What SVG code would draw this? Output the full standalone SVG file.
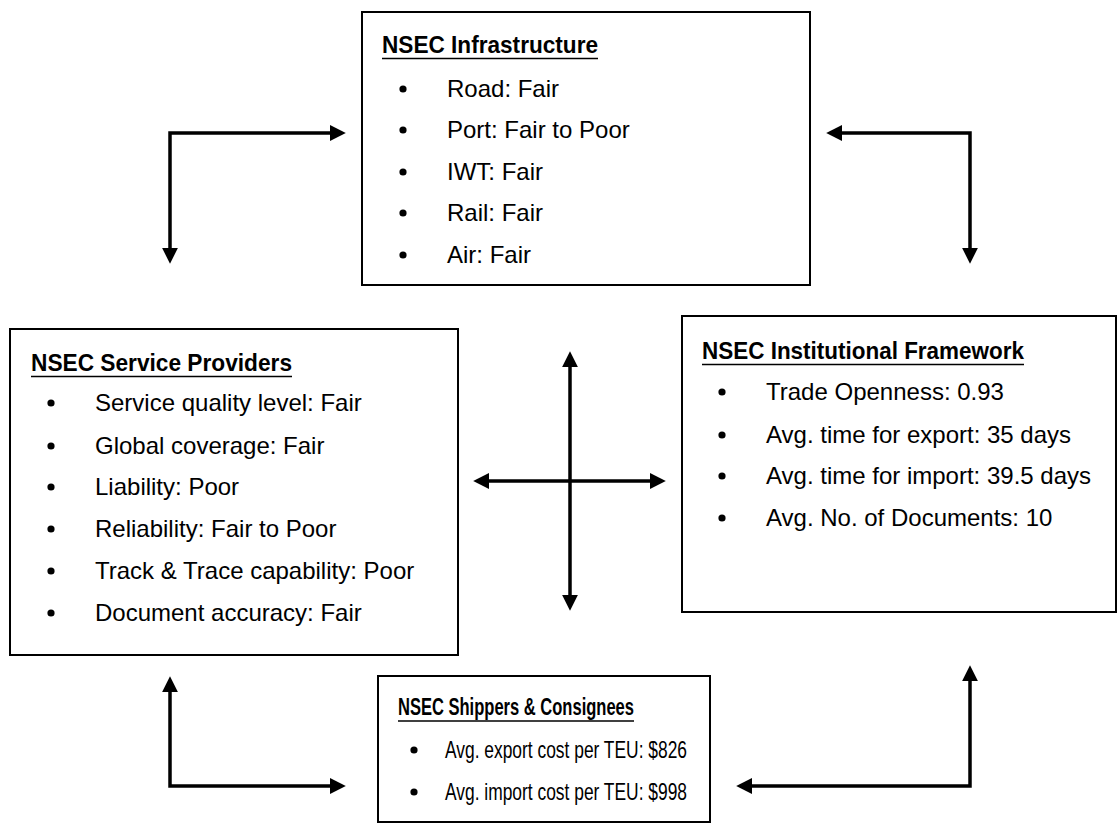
<svg xmlns="http://www.w3.org/2000/svg" width="1117" height="824" viewBox="0 0 1117 824">
<style>
.box{fill:#fff;stroke:#000;stroke-width:2}
.title{font-family:"Liberation Sans",Arial,sans-serif;font-weight:bold;font-size:24px;fill:#000}
.item{font-family:"Liberation Sans",Arial,sans-serif;font-size:24px;fill:#000}
.ul{stroke:#000;stroke-width:1.6}
.dot{fill:#000}
.conn{fill:none;stroke:#000;stroke-width:3.5;stroke-linejoin:miter}
</style>
<defs>
<marker id="ah" markerUnits="userSpaceOnUse" markerWidth="16" markerHeight="16" viewBox="0 0 15 15" refX="3" refY="7.5" orient="auto-start-reverse">
<path d="M0,0 L15,7.5 L0,15 z" fill="#000"/>
</marker>
</defs>
<rect width="1117" height="824" fill="#fff"/>

<g id="infrastructure">
<rect class="box" x="362" y="12" width="448" height="273"/>
<text class="title" x="382" y="53" textLength="216" lengthAdjust="spacingAndGlyphs">NSEC Infrastructure</text>
<line class="ul" x1="382" y1="58.5" x2="598" y2="58.5"/>
<circle class="dot" cx="403" cy="89" r="3.6"/><text class="item" x="447" y="97">Road: Fair</text>
<circle class="dot" cx="403" cy="130" r="3.6"/><text class="item" x="447" y="138">Port: Fair to Poor</text>
<circle class="dot" cx="403" cy="172" r="3.6"/><text class="item" x="447" y="180">IWT: Fair</text>
<circle class="dot" cx="403" cy="213" r="3.6"/><text class="item" x="447" y="221">Rail: Fair</text>
<circle class="dot" cx="403" cy="255" r="3.6"/><text class="item" x="447" y="263">Air: Fair</text>
</g>

<g id="service-providers">
<rect class="box" x="10" y="329" width="448" height="326"/>
<text class="title" x="31" y="371" textLength="261" lengthAdjust="spacingAndGlyphs">NSEC Service Providers</text>
<line class="ul" x1="31" y1="376.5" x2="292" y2="376.5"/>
<circle class="dot" cx="51" cy="403" r="3.6"/><text class="item" x="95" y="411">Service quality level: Fair</text>
<circle class="dot" cx="51" cy="446" r="3.6"/><text class="item" x="95" y="454">Global coverage: Fair</text>
<circle class="dot" cx="51" cy="487" r="3.6"/><text class="item" x="95" y="495">Liability: Poor</text>
<circle class="dot" cx="51" cy="529" r="3.6"/><text class="item" x="95" y="537">Reliability: Fair to Poor</text>
<circle class="dot" cx="51" cy="571" r="3.6"/><text class="item" x="95" y="579">Track &amp; Trace capability: Poor</text>
<circle class="dot" cx="51" cy="613" r="3.6"/><text class="item" x="95" y="621">Document accuracy: Fair</text>
</g>

<g id="institutional-framework">
<rect class="box" x="682" y="316" width="434" height="296"/>
<text class="title" x="702" y="359" textLength="322" lengthAdjust="spacingAndGlyphs">NSEC Institutional Framework</text>
<line class="ul" x1="702" y1="364.5" x2="1024" y2="364.5"/>
<circle class="dot" cx="722" cy="392" r="3.6"/><text class="item" x="766" y="400">Trade Openness: 0.93</text>
<circle class="dot" cx="722" cy="435" r="3.6"/><text class="item" x="766" y="443">Avg. time for export: 35 days</text>
<circle class="dot" cx="722" cy="476" r="3.6"/><text class="item" x="766" y="484">Avg. time for import: 39.5 days</text>
<circle class="dot" cx="722" cy="518" r="3.6"/><text class="item" x="766" y="526">Avg. No. of Documents: 10</text>
</g>

<g id="shippers-consignees">
<rect class="box" x="378" y="676" width="332" height="146"/>
<text class="title" x="398" y="715" textLength="236" lengthAdjust="spacingAndGlyphs">NSEC Shippers &amp; Consignees</text>
<line class="ul" x1="398" y1="721" x2="634" y2="721"/>
<circle class="dot" cx="414" cy="750" r="3.6"/><text class="item" x="445" y="758" textLength="242" lengthAdjust="spacingAndGlyphs">Avg. export cost per TEU: $826</text>
<circle class="dot" cx="414" cy="792" r="3.6"/><text class="item" x="445" y="800" textLength="242" lengthAdjust="spacingAndGlyphs">Avg. import cost per TEU: $998</text>
</g>

<g id="connectors">
<path class="conn" d="M333,133 L170,133 L170,251" marker-start="url(#ah)" marker-end="url(#ah)"/>
<path class="conn" d="M839,133 L970,133 L970,251" marker-start="url(#ah)" marker-end="url(#ah)"/>
<path class="conn" d="M570,364 L570,598" marker-start="url(#ah)" marker-end="url(#ah)"/>
<path class="conn" d="M486,481 L653,481" marker-start="url(#ah)" marker-end="url(#ah)"/>
<path class="conn" d="M170,689 L170,786 L333,786" marker-start="url(#ah)" marker-end="url(#ah)"/>
<path class="conn" d="M970,678 L970,786 L749,786" marker-start="url(#ah)" marker-end="url(#ah)"/>
</g>
</svg>
